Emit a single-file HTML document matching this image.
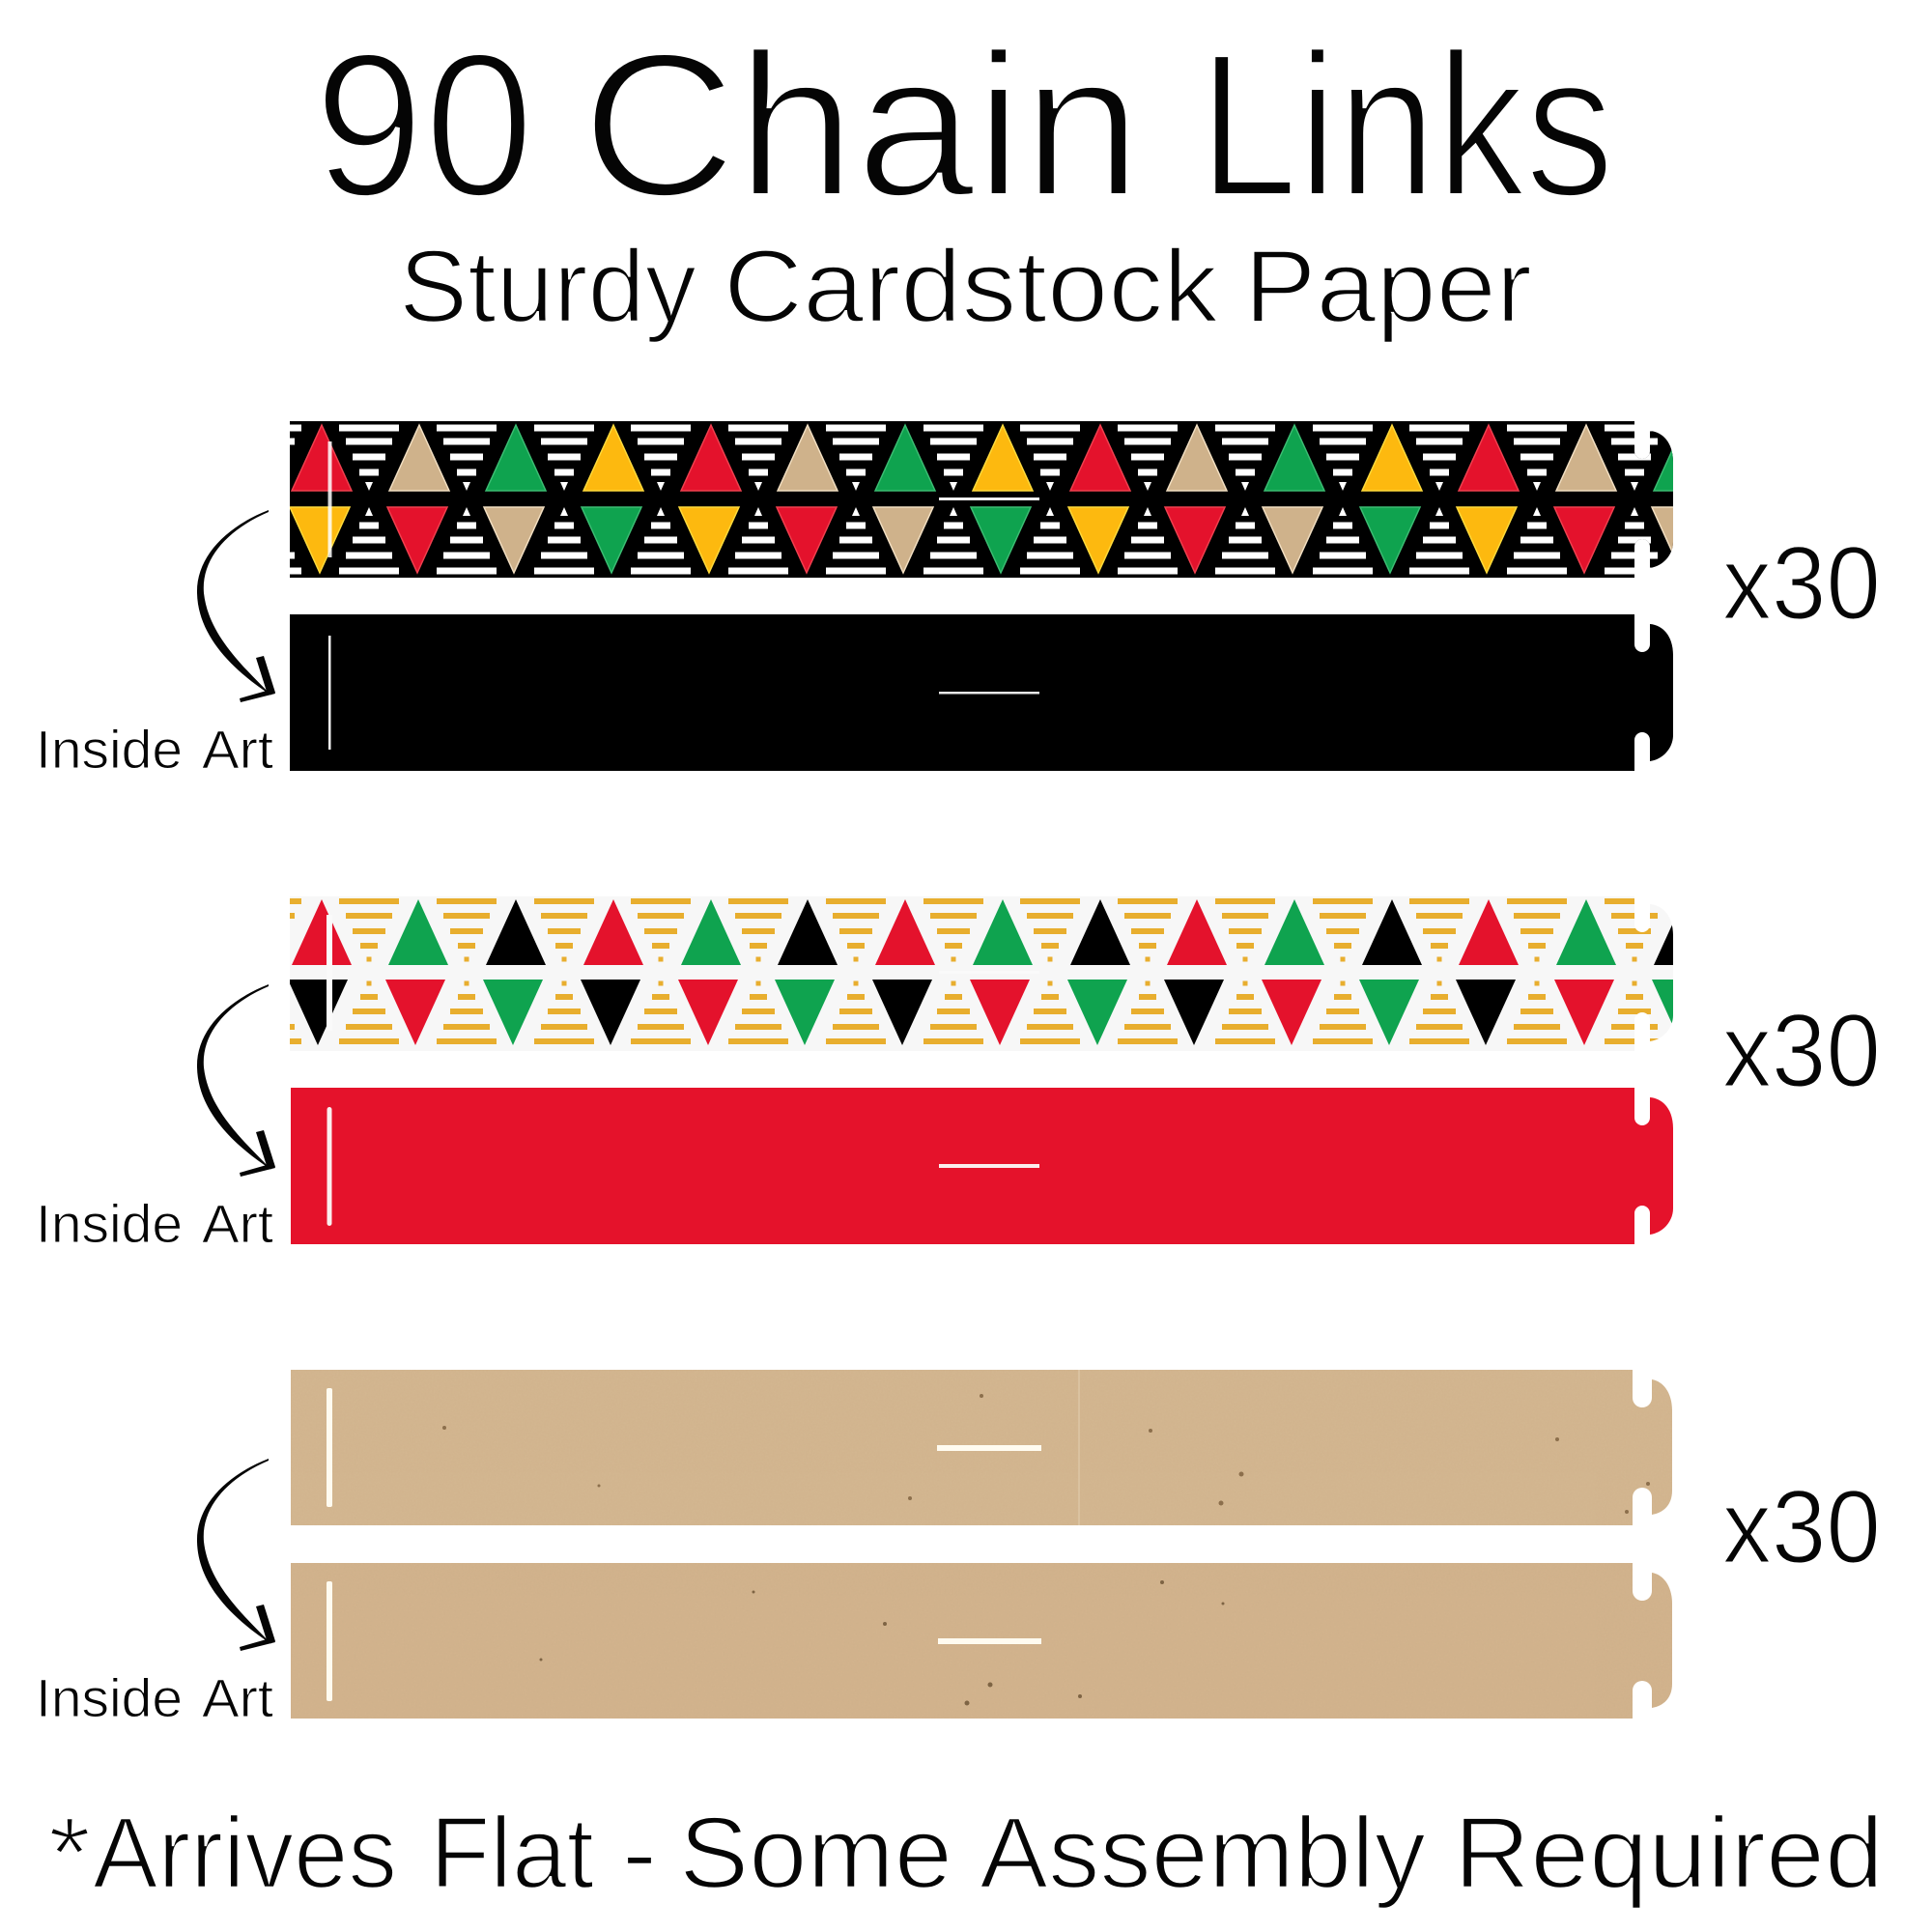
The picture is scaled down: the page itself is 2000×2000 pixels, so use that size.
<!DOCTYPE html>
<html><head><meta charset="utf-8"><title>90 Chain Links</title>
<style>html,body{margin:0;padding:0;background:#fff}svg{display:block}
text{font-family:"Liberation Sans",sans-serif;fill:#050505;stroke:#fff}</style></head>
<body>
<svg xmlns="http://www.w3.org/2000/svg" width="2000" height="2000" viewBox="0 0 2000 2000">
<defs>
<clipPath id="cA"><path d="M300,0H1692V31A8,8 0 0 0 1708,31V10C1721,11 1732,22 1732,42V125C1732,138 1722,150 1708,152V130A8,8 0 0 0 1692,130V162H300Z"/></clipPath>
<clipPath id="cB"><path d="M301,0H1690V29A10,10 0 0 0 1710,29V10C1722,12 1731,24 1731,42V125C1731,140 1722,148 1710,150V132A10,10 0 0 0 1690,132V161H301Z"/></clipPath>
<polygon id="u" points="-31,68 0,0 31,68"/>
<polygon id="d" points="-31,0 31,0 0,68"/>
<g id="s1">
<rect x="-31" y="3.5" width="62" height="7"/><rect x="-24" y="17.5" width="48" height="7"/><rect x="-17" y="33.5" width="34" height="7"/><rect x="-10" y="49.5" width="20" height="7"/><polygon points="-4,63 4,63 0,72"/>
<polygon points="-4,98 4,98 0,89"/><rect x="-10" y="104.5" width="20" height="7"/><rect x="-17" y="119.5" width="34" height="7"/><rect x="-24" y="135.5" width="48" height="7"/><rect x="-31" y="151.5" width="62" height="7"/>
</g>
<g id="s2">
<rect x="-31" y="4" width="62" height="6"/><rect x="-24" y="19" width="48" height="6"/><rect x="-17" y="35" width="34" height="6"/><rect x="-9" y="50" width="18" height="6"/><rect x="-2.5" y="64.5" width="5" height="5"/>
<rect x="-2.5" y="89.5" width="5" height="5"/><rect x="-9" y="103" width="18" height="6"/><rect x="-17" y="118" width="34" height="6"/><rect x="-24" y="134" width="48" height="6"/><rect x="-31" y="149" width="62" height="6"/>
</g>
<g id="arrow">
<path d="M278,1510C232,1528 203,1560 204,1596C205,1640 240,1675 281,1702C252,1672 216,1640 211,1596C208,1560 236,1530 278,1512Z"/>
<path d="M265,1663L273,1661L285,1699L277,1701Z"/>
<path d="M248,1705L283,1695L285,1700L249,1709Z"/>
</g>
<filter id="grain" x="0" y="0" width="100%" height="100%">
<feTurbulence type="fractalNoise" baseFrequency="0.55" numOctaves="2" seed="4"/>
<feColorMatrix values="0 0 0 0 0.45  0 0 0 0 0.32  0 0 0 0 0.18  0 0 0 0.35 -0.1"/>
</filter>
</defs>

<!-- Strip 1: black pattern -->
<g transform="translate(0,436)"><g clip-path="url(#cA)">
<rect x="300" y="0" width="1440" height="162" fill="#000"/>
<g fill="#fff">
<use href="#s1" x="281"/><use href="#s1" x="382"/><use href="#s1" x="483"/><use href="#s1" x="584"/><use href="#s1" x="684"/><use href="#s1" x="785"/><use href="#s1" x="886"/><use href="#s1" x="987"/><use href="#s1" x="1087"/><use href="#s1" x="1188"/><use href="#s1" x="1289"/><use href="#s1" x="1390"/><use href="#s1" x="1490"/><use href="#s1" x="1591"/><use href="#s1" x="1692"/>
</g>
<g stroke-width="1.5">
<g fill="#e4122c" stroke="#f0404f"><use href="#u" x="333" y="4"/><use href="#u" x="736" y="4"/><use href="#u" x="1139" y="4"/><use href="#u" x="1541" y="4"/></g>
<g fill="#cfb28b" stroke="#f2dfc2"><use href="#u" x="434" y="4"/><use href="#u" x="836" y="4"/><use href="#u" x="1239" y="4"/><use href="#u" x="1642" y="4"/></g>
<g fill="#0fa34f" stroke="#3cbd73"><use href="#u" x="534" y="4"/><use href="#u" x="937" y="4"/><use href="#u" x="1340" y="4"/><use href="#u" x="1743" y="4"/></g>
<g fill="#fdb90f" stroke="#ffdb3c"><use href="#u" x="635" y="4"/><use href="#u" x="1038" y="4"/><use href="#u" x="1441" y="4"/></g>
<g fill="#fdb90f" stroke="#ffdb3c"><use href="#d" x="331" y="89"/><use href="#d" x="734" y="89"/><use href="#d" x="1137" y="89"/><use href="#d" x="1539" y="89"/></g>
<g fill="#e4122c" stroke="#f0404f"><use href="#d" x="432" y="89"/><use href="#d" x="835" y="89"/><use href="#d" x="1237" y="89"/><use href="#d" x="1640" y="89"/></g>
<g fill="#cfb28b" stroke="#f2dfc2"><use href="#d" x="532" y="89"/><use href="#d" x="935" y="89"/><use href="#d" x="1338" y="89"/><use href="#d" x="1741" y="89"/></g>
<g fill="#0fa34f" stroke="#3cbd73"><use href="#d" x="633" y="89"/><use href="#d" x="1036" y="89"/><use href="#d" x="1439" y="89"/></g>
</g>
<rect x="339.5" y="21" width="4" height="120" fill="#fff" fill-opacity=".85"/>
<rect x="972" y="79" width="104" height="3" fill="#f4f4f4"/>
</g></g>

<!-- Strip 1 inside: solid black -->
<g transform="translate(0,636)"><g clip-path="url(#cA)">
<rect x="300" y="0" width="1440" height="162" fill="#000"/>
<rect x="340" y="22" width="2.5" height="118" fill="#f4f4f4"/>
<rect x="972" y="80" width="104" height="2.5" fill="#e8e8e8"/>
</g></g>

<!-- Strip 2: white/gold pattern -->
<g transform="translate(0,926)"><g clip-path="url(#cA)">
<rect x="300" y="2" width="1440" height="160" fill="#f7f7f7"/>
<g fill="#e8ae2e">
<use href="#s2" x="281"/><use href="#s2" x="382"/><use href="#s2" x="483"/><use href="#s2" x="584"/><use href="#s2" x="684"/><use href="#s2" x="785"/><use href="#s2" x="886"/><use href="#s2" x="987"/><use href="#s2" x="1087"/><use href="#s2" x="1188"/><use href="#s2" x="1289"/><use href="#s2" x="1390"/><use href="#s2" x="1490"/><use href="#s2" x="1591"/><use href="#s2" x="1692"/>
</g>
<g fill="#e4122c"><use href="#u" x="333" y="5"/><use href="#u" x="635" y="5"/><use href="#u" x="937" y="5"/><use href="#u" x="1239" y="5"/><use href="#u" x="1541" y="5"/></g>
<g fill="#0fa34f"><use href="#u" x="433" y="5"/><use href="#u" x="736" y="5"/><use href="#u" x="1038" y="5"/><use href="#u" x="1340" y="5"/><use href="#u" x="1642" y="5"/></g>
<g fill="#000"><use href="#u" x="534" y="5"/><use href="#u" x="836" y="5"/><use href="#u" x="1139" y="5"/><use href="#u" x="1441" y="5"/><use href="#u" x="1743" y="5"/></g>
<g fill="#000"><use href="#d" x="329" y="88"/><use href="#d" x="632" y="88"/><use href="#d" x="934" y="88"/><use href="#d" x="1236" y="88"/><use href="#d" x="1538" y="88"/></g>
<g fill="#e4122c"><use href="#d" x="430" y="88"/><use href="#d" x="733" y="88"/><use href="#d" x="1035" y="88"/><use href="#d" x="1337" y="88"/><use href="#d" x="1640" y="88"/></g>
<g fill="#0fa34f"><use href="#d" x="531" y="88"/><use href="#d" x="833" y="88"/><use href="#d" x="1136" y="88"/><use href="#d" x="1438" y="88"/><use href="#d" x="1741" y="88"/></g>
<rect x="338" y="21" width="6" height="120" fill="#fafafa"/>
<rect x="972" y="79" width="104" height="3" fill="#fafafa"/>
</g></g>

<!-- Strip 2 inside: solid red -->
<g transform="translate(0,1126)"><g clip-path="url(#cA)">
<rect x="301" y="0" width="1440" height="162" fill="#e5122b"/>
<rect x="338.5" y="20" width="5" height="123" rx="2.5" fill="#fbeeee"/>
<rect x="972" y="79" width="104" height="4" fill="#fbeeee"/>
</g></g>

<!-- Strip 3: kraft -->
<g transform="translate(0,1418)"><g clip-path="url(#cB)">
<rect x="300" y="0" width="1440" height="162" fill="#d3b690"/>
<rect x="300" y="0" width="1440" height="162" filter="url(#grain)" opacity=".3"/>
<rect x="1116" y="0" width="2" height="162" fill="#dac2a0"/>
<g fill="#8c6f4c"><circle cx="1016" cy="27" r="2"/><circle cx="942" cy="133" r="2"/><circle cx="1191" cy="63" r="2"/><circle cx="1285" cy="108" r="2.5"/><circle cx="1264" cy="138" r="2.5"/><circle cx="1612" cy="72" r="2"/><circle cx="1706" cy="118" r="2"/><circle cx="1684" cy="147" r="2"/><circle cx="460" cy="60" r="2"/><circle cx="620" cy="120" r="1.5"/></g>
<rect x="338" y="19" width="6" height="123" rx="2" fill="#fffbf0"/>
<rect x="970" y="78" width="108" height="6" fill="#fffbf0"/>
</g></g>

<!-- Strip 3 inside: kraft -->
<g transform="translate(0,1618)"><g clip-path="url(#cB)">
<rect x="300" y="0" width="1440" height="162" fill="#d2b38d"/>
<rect x="300" y="0" width="1440" height="162" filter="url(#grain)" opacity=".4"/>
<g fill="#7e6444"><circle cx="916" cy="63" r="2"/><circle cx="1025" cy="126" r="2.5"/><circle cx="1001" cy="145" r="2.5"/><circle cx="1118" cy="138" r="2"/><circle cx="1203" cy="20" r="2"/><circle cx="1266" cy="42" r="1.5"/><circle cx="560" cy="100" r="1.5"/><circle cx="780" cy="30" r="1.5"/></g>
<rect x="338" y="19" width="6" height="124" rx="2" fill="#fffbf0"/>
<rect x="971" y="78" width="107" height="6" fill="#fffbf0"/>
</g></g>

<!-- Arrows -->
<g fill="#050505">
<use href="#arrow" y="-982"/><use href="#arrow" y="-491"/><use href="#arrow"/>
</g>

<!-- Title -->
<g font-size="212" stroke-width="5">
<text x="325" y="202.5" textLength="228" lengthAdjust="spacingAndGlyphs">90</text>
<text x="602" y="202.5" textLength="580" lengthAdjust="spacingAndGlyphs">Chain</text>
<text x="1241" y="202.5" textLength="430" lengthAdjust="spacingAndGlyphs">Links</text>
</g>
<!-- Subtitle -->
<g font-size="107" stroke-width="2.5">
<text x="413" y="333" textLength="308" lengthAdjust="spacingAndGlyphs">Sturdy</text>
<text x="749" y="333" textLength="512" lengthAdjust="spacingAndGlyphs">Cardstock</text>
<text x="1288" y="333" textLength="298" lengthAdjust="spacingAndGlyphs">Paper</text>
</g>
<!-- Side labels -->
<g font-size="56" stroke-width="1">
<text x="37" y="795" textLength="152" lengthAdjust="spacingAndGlyphs">Inside</text>
<text x="209" y="795" textLength="74" lengthAdjust="spacingAndGlyphs">Art</text>
<text x="37" y="1286" textLength="152" lengthAdjust="spacingAndGlyphs">Inside</text>
<text x="209" y="1286" textLength="74" lengthAdjust="spacingAndGlyphs">Art</text>
<text x="37" y="1777" textLength="152" lengthAdjust="spacingAndGlyphs">Inside</text>
<text x="209" y="1777" textLength="74" lengthAdjust="spacingAndGlyphs">Art</text>
</g>
<!-- x30 -->
<g font-size="108" stroke-width="2">
<text x="1783" y="640.5" textLength="164" lengthAdjust="spacingAndGlyphs">x30</text>
<text x="1783" y="1124.5" textLength="164" lengthAdjust="spacingAndGlyphs">x30</text>
<text x="1783" y="1617.5" textLength="164" lengthAdjust="spacingAndGlyphs">x30</text>
</g>
<!-- Bottom -->
<g font-size="105" stroke-width="2.5">
<text x="50" y="1954" textLength="44" lengthAdjust="spacingAndGlyphs">*</text>
<text x="96" y="1954" textLength="315" lengthAdjust="spacingAndGlyphs">Arrives</text>
<text x="445" y="1954" textLength="170" lengthAdjust="spacingAndGlyphs">Flat</text>
<text x="644" y="1954" textLength="36" lengthAdjust="spacingAndGlyphs">-</text>
<text x="703" y="1954" textLength="283" lengthAdjust="spacingAndGlyphs">Some</text>
<text x="1014" y="1954" textLength="462" lengthAdjust="spacingAndGlyphs">Assembly</text>
<text x="1505" y="1954" textLength="445" lengthAdjust="spacingAndGlyphs">Required</text>
</g>
</svg>
</body></html>
